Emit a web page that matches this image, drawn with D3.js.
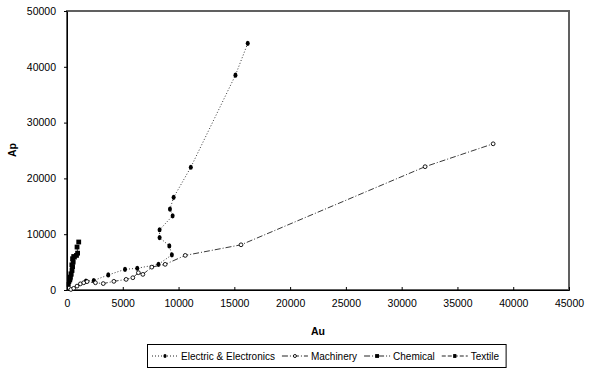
<!DOCTYPE html>
<html>
<head>
<meta charset="utf-8">
<script src="https://cdn.jsdelivr.net/npm/d3@7"></script>
<style>
  body { margin: 0; background: #fff; }
  svg text { font-family: "Liberation Sans", Arial, sans-serif; fill: #000; }
</style>
</head>
<body>
<div id="chart"></div>
<script>
// values
const seriesNames = ["Electric & Electronics", "Machinery", "Chemical", "Textile"];

const eeAu = [1700, 2400, 3700, 5200, 6300, 8200, 9400, 9170, 8300, 8300, 9470, 9230, 9560, 11100, 15100, 16200];
const eeAp = [1600, 1700, 2700, 3700, 3900, 4600, 6300, 7900, 9400, 10800, 13300, 14500, 16600, 22000, 38500, 44200];

const maAu = [350, 600, 900, 1200, 1500, 1800, 2550, 3250, 4200, 5300, 5900, 6400, 6800, 7600, 8800, 10600, 15600, 32100, 38200];
const maAp = [100, 300, 700, 1100, 1300, 1500, 1300, 1150, 1550, 1900, 2200, 3100, 2800, 4100, 4600, 6200, 8100, 22100, 26200];

const chAu = [250, 300, 350, 450, 500, 550, 500, 600, 850, 950, 900, 1050];
const chAp = [1800, 2300, 2900, 3500, 4200, 5000, 5600, 6000, 6200, 6600, 7700, 8600];

const txAu = [150, 200, 300, 400, 450, 400, 550, 700];
const txAp = [1000, 1500, 2100, 2800, 3600, 4500, 5300, 5900];

const xTicks = [0, 5000, 10000, 15000, 20000, 25000, 30000, 35000, 40000, 45000];
const yTicks = [0, 10000, 20000, 30000, 40000, 50000];

const W = 595, H = 369;
const svg = d3.select("#chart").append("svg").attr("width", W).attr("height", H);

const xScale = d3.scaleLinear().domain([0, 45000]).range([67, 569]);
const yScale = d3.scaleLinear().domain([0, 50000]).range([290, 11]);

// plot frame (grey top/right like the spreadsheet)
svg.append("rect")
  .attr("x", 67).attr("y", 11)
  .attr("width", 502).attr("height", 279)
  .attr("fill", "none").attr("stroke", "#606060").attr("stroke-width", 2);

// axes
const xAxis = d3.axisBottom(xScale).tickValues(xTicks).tickFormat(d3.format("d")).tickSizeInner(-3).tickSizeOuter(0).tickPadding(10);
const gx = svg.append("g").attr("transform", "translate(0,290)").call(xAxis);
gx.select(".domain").attr("stroke", "#000");
gx.selectAll("text").attr("font-size", 10.5).style("font-family", "Liberation Sans, Arial, sans-serif");

const yAxis = d3.axisLeft(yScale).tickValues(yTicks).tickFormat(d3.format("d")).tickSizeInner(3).tickSizeOuter(0).tickPadding(8);
const gy = svg.append("g").attr("transform", "translate(67,0)").call(yAxis);
gy.select(".domain").attr("stroke", "#000");
gy.selectAll("text").attr("font-size", 10.5).style("font-family", "Liberation Sans, Arial, sans-serif");

svg.append("text").attr("x", 318).attr("y", 335).attr("text-anchor", "middle")
  .attr("font-size", 10.5).attr("font-weight", "bold").text("Au");
svg.append("text").attr("transform", "translate(16,150) rotate(-90)").attr("text-anchor", "middle")
  .attr("font-size", 10.5).attr("font-weight", "bold").text("Ap");

const styles = [
  { dash: "1,2", marker: "dot" },
  { dash: "6,2,1,2", marker: "ring" },
  { dash: "6,2,1,2,1,2", marker: "square" },
  { dash: "4,2", marker: "small" }
];

const data = [
  eeAu.map((d, i) => [d, eeAp[i]]),
  maAu.map((d, i) => [d, maAp[i]]),
  chAu.map((d, i) => [d, chAp[i]]),
  txAu.map((d, i) => [d, txAp[i]])
];

const line = d3.line().x(d => xScale(d[0])).y(d => yScale(d[1]));

function drawMarker(g, type, x, y, k) {
  k = k || 1;
  if (type === "dot") {
    g.append("ellipse").attr("cx", x).attr("cy", y).attr("rx", 2 * k).attr("ry", 2.6 * k).attr("fill", "#000");
  } else if (type === "ring") {
    g.append("circle").attr("cx", x).attr("cy", y).attr("r", 1.9 * k).attr("fill", "#fff").attr("stroke", "#000").attr("stroke-width", 0.9);
  } else if (type === "square") {
    g.append("rect").attr("x", x - 2.4 * k).attr("y", y - 2.4 * k).attr("width", 4.8 * k).attr("height", 4.8 * k).attr("fill", "#000");
  } else {
    g.append("rect").attr("x", x - 2 * k).attr("y", y - 2.4 * k).attr("width", 4 * k).attr("height", 4.8 * k).attr("fill", "#000");
  }
}

data.forEach((pts, i) => {
  const g = svg.append("g");
  g.append("path").attr("d", line(pts)).attr("fill", "none")
    .attr("stroke", "#222").attr("stroke-width", 0.9).attr("stroke-dasharray", styles[i].dash);
  pts.forEach(p => drawMarker(g, styles[i].marker, xScale(p[0]), yScale(p[1])));
});

// legend
const lg = svg.append("g");
const box = lg.append("rect").attr("fill", "#fff").attr("stroke", "#000").attr("stroke-width", 1);
let lx = 152;
const ly = 356;
seriesNames.forEach((name, i) => {
  lg.append("line").attr("x1", lx).attr("x2", lx + 26).attr("y1", ly).attr("y2", ly)
    .attr("stroke", "#222").attr("stroke-dasharray", styles[i].dash);
  drawMarker(lg, styles[i].marker, lx + 13, ly, 0.8);
  const t = lg.append("text").attr("x", lx + 29).attr("y", ly + 3.5).attr("font-size", 10).text(name);
  lx += 29 + t.node().getComputedTextLength() + 7;
});
box.attr("x", 147.5).attr("y", 344.5).attr("width", lx - 147.5).attr("height", 23);
</script>
</body>
</html>
